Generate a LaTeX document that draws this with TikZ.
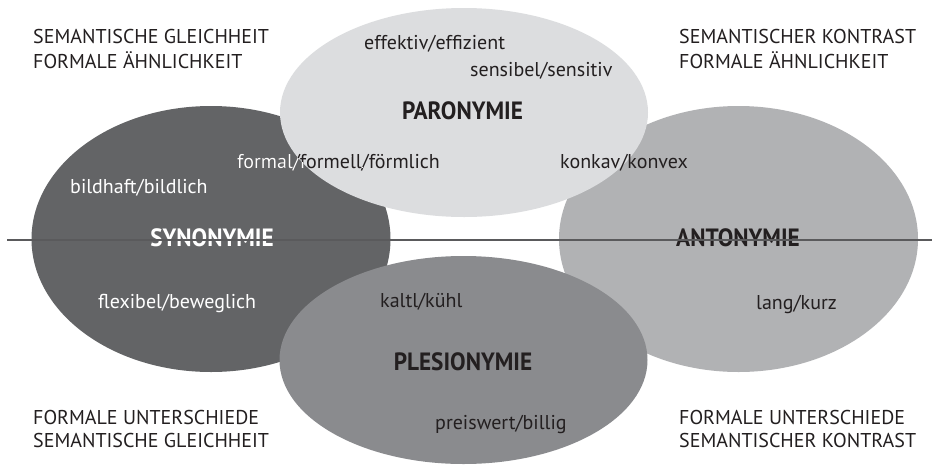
\documentclass[tikz,border=0pt]{standalone}
\usepackage{fontspec}
\setmainfont{PT Sans}
\definecolor{parc}{HTML}{DCDDDF}
\definecolor{sync}{HTML}{636466}
\definecolor{antc}{HTML}{B1B2B4}
\definecolor{plec}{HTML}{8A8B8E}
\definecolor{txt}{HTML}{231F20}
\definecolor{linec}{HTML}{5A5A5C}
\newcommand{\narrowhead}[1]{\scalebox{0.93}[1]{#1}}
\begin{document}
\begin{tikzpicture}[x=1pt,y=-1pt,
  lab/.style={anchor=base west, inner sep=0pt, text=txt, font=\fontsize{20}{24}\selectfont},
  wlab/.style={lab, text=white},
  head/.style={anchor=base, inner sep=0pt, text=txt, font=\bfseries\fontsize{25}{30}\selectfont},
  whead/.style={head, text=white},
  corner/.style={lab}]
\useasboundingbox (0,0) rectangle (932,464);
\fill[white] (0,0) rectangle (932,464);
% ellipses
\fill[sync] (211,239) ellipse [x radius=179.5, y radius=133];
\fill[antc] (738.5,239) ellipse [x radius=179.5, y radius=133];
\fill[parc] (464,112.5) ellipse [x radius=184, y radius=104.5];
\fill[plec] (463.5,360) ellipse [x radius=184, y radius=104];
% corner texts
\node[corner] (tl1) at (33,43) {SEMANTISCHE GLEICHHEIT};
\node[corner] (tl2) at (33,68) {FORMALE ÄHNLICHKEIT};
\node[corner] (tr1) at (679,43) {SEMANTISCHER KONTRAST};
\node[corner] (tr2) at (679,68) {FORMALE ÄHNLICHKEIT};
\node[corner] (bl1) at (33,424) {FORMALE UNTERSCHIEDE};
\node[corner] (bl2) at (33,447) {SEMANTISCHE GLEICHHEIT};
\node[corner] (br1) at (679,424) {FORMALE UNTERSCHIEDE};
\node[corner] (br2) at (679,447) {SEMANTISCHER KONTRAST};
% paronymie
\node[lab] (eff) at (364,49) {effektiv/effizient};
\node[lab] (sens) at (470,76) {sensibel/sensitiv};
\node[head] (par) at (462.5,119) {\narrowhead{PARONYMIE}};
\node[lab] (formal) at (237,168) {formal/formell/förmlich};
\begin{scope}
  \clip (211,239) ellipse [x radius=179.5, y radius=133];
  \begin{scope}[even odd rule]
    \clip (211,239) ellipse [x radius=179.5, y radius=133]
          (464,112.5) ellipse [x radius=184, y radius=104.5];
    \node[wlab] (formalw) at (237,168) {formal/formell/förmlich};
  \end{scope}
\end{scope}
\node[lab] (konk) at (560,168) {konkav/konvex};
% synonymie
\node[wlab] (bild) at (70,193) {bildhaft/bildlich};
\node[whead] (syn) at (212,246) {\narrowhead{SYNONYMIE}};
\node[wlab] (flex) at (98,308) {flexibel/beweglich};
% antonymie
\node[head] (ant) at (738,246) {\narrowhead{ANTONYMIE}};
\node[lab] (lang) at (756,309) {lang/kurz};
% plesionymie
\node[lab] (kalt) at (380,307) {kaltl/kühl};
\node[head] (ple) at (463,370) {\narrowhead{PLESIONYMIE}};
\node[lab] (preis) at (435,429) {preiswert/billig};
% axis line
\coordinate (hl) at (7,240);
\coordinate (hr) at (932,240);
\draw[linec, line width=1.4pt] (hl) -- (hr);
\end{tikzpicture}
\end{document}
